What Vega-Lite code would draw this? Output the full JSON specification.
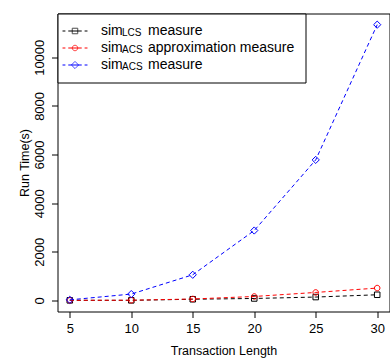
{
  "$schema": "https://vega.github.io/schema/vega-lite/v6.json",
  "width": 332,
  "height": 298,
  "autosize": {"type": "none"},
  "padding": {"left": 57.5, "top": 13.5, "right": 0.5, "bottom": 47.5},
  "background": "white",
  "data": {
    "values": [
      {"length": 5, "series": "LCS", "time": 5},
      {"length": 10, "series": "LCS", "time": 5},
      {"length": 15, "series": "LCS", "time": 50},
      {"length": 20, "series": "LCS", "time": 82},
      {"length": 25, "series": "LCS", "time": 140},
      {"length": 30, "series": "LCS", "time": 234},
      {"length": 5, "series": "ACS approximation", "time": 8},
      {"length": 10, "series": "ACS approximation", "time": 10},
      {"length": 15, "series": "ACS approximation", "time": 60},
      {"length": 20, "series": "ACS approximation", "time": 164},
      {"length": 25, "series": "ACS approximation", "time": 330},
      {"length": 30, "series": "ACS approximation", "time": 510},
      {"length": 5, "series": "ACS", "time": 25},
      {"length": 10, "series": "ACS", "time": 263},
      {"length": 15, "series": "ACS", "time": 1056},
      {"length": 20, "series": "ACS", "time": 2876},
      {"length": 25, "series": "ACS", "time": 5780},
      {"length": 30, "series": "ACS", "time": 11340}
    ]
  },
  "config": {
    "view": {"stroke": "black", "strokeWidth": 1},
    "font": "Liberation Sans",
    "axis": {
      "grid": false,
      "domain": false,
      "tickColor": "black",
      "tickSize": 6,
      "tickWidth": 1,
      "labelColor": "black",
      "labelFont": "Liberation Sans",
      "labelFontSize": 13,
      "titleFont": "Liberation Sans",
      "titleFontSize": 12.5,
      "titleFontWeight": "normal",
      "titleColor": "black",
      "labelOverlap": false,
      "labelFlush": false
    }
  },
  "layer": [
    {
      "mark": {"type": "point", "filled": false, "size": 144, "strokeWidth": 1},
      "encoding": {
        "x": {
          "field": "length",
          "type": "quantitative",
          "scale": {"domain": [4, 31], "nice": false, "zero": false},
          "axis": {
            "values": [5, 10, 15, 20, 25, 30],
            "title": "Transaction Length",
            "labelPadding": 5,
            "titleX": 166,
            "titleY": 42.8,
            "titleBaseline": "alphabetic",
            "titleAlign": "center"
          }
        },
        "y": {
          "field": "time",
          "type": "quantitative",
          "scale": {"domain": [-454, 11800], "nice": false, "zero": false},
          "axis": {
            "values": [0, 2000, 4000, 6000, 8000, 10000],
            "format": "d",
            "title": "Run Time(s)",
            "labelAngle": 270,
            "labelAlign": "center",
            "labelBaseline": "alphabetic",
            "labelPadding": 7.8,
            "titleAngle": 270,
            "titleX": -28.8,
            "titleY": 149,
            "titleBaseline": "alphabetic",
            "titleAlign": "center"
          }
        },
        "color": {
          "field": "series",
          "type": "nominal",
          "scale": {"domain": ["LCS", "ACS approximation", "ACS"], "range": ["black", "red", "blue"]},
          "legend": {
            "orient": "top-left",
            "offset": 0,
            "title": null,
            "padding": 10.5,
            "strokeColor": "black",
            "fillColor": "white",
            "symbolSize": 144,
            "symbolStrokeWidth": 1,
            "symbolOffset": 0,
            "labelOffset": 66,
            "labelFont": "Liberation Sans",
            "labelFontSize": 14,
            "labelColor": "black",
            "labelLimit": 400,
            "rowPadding": 3,
            "labelExpr": "datum.label == 'ACS approximation' ? 'approximation measure' : 'measure'"
          }
        },
        "shape": {
          "field": "series",
          "type": "nominal",
          "scale": {
            "domain": ["LCS", "ACS approximation", "ACS"],
            "range": [
              "M-0.46,-0.46H0.46V0.46H-0.46Z",
              "M0.46,0A0.46,0.46,0,1,1,-0.46,0A0.46,0.46,0,1,1,0.46,0Z",
              "M-0.6,0L0,-0.6L0.6,0L0,0.6Z"
            ]
          },
          "legend": {
            "orient": "top-left",
            "offset": 0,
            "title": null,
            "padding": 10.5,
            "strokeColor": "black",
            "fillColor": "white",
            "symbolSize": 144,
            "symbolStrokeWidth": 1,
            "symbolOffset": 0,
            "labelOffset": 66,
            "labelFont": "Liberation Sans",
            "labelFontSize": 14,
            "labelColor": "black",
            "labelLimit": 400,
            "rowPadding": 3,
            "labelExpr": "datum.label == 'ACS approximation' ? 'approximation measure' : 'measure'"
          }
        },
        "size": {
          "field": "series",
          "type": "nominal",
          "scale": {"type": "point", "domain": ["ACS", "ACS approximation", "LCS"], "range": [144, 144]},
          "legend": {
            "orient": "none",
            "legendX": 29.5,
            "legendY": 10.5,
            "zindex": 2,
            "title": null,
            "padding": 0,
            "symbolType": "square",
            "symbolStrokeWidth": 0,
            "symbolFillColor": "transparent",
            "symbolStrokeColor": "transparent",
            "labelOffset": 0,
            "labelFont": "Liberation Sans",
            "labelFontSize": 14,
            "labelColor": "black",
            "rowPadding": 3,
            "labelExpr": "'sim'",
            "encode": {"symbols": {"update": {"opacity": {"value": 0}}}}
          }
        },
        "opacity": {
          "field": "series",
          "type": "nominal",
          "scale": {"type": "point", "domain": ["LCS", "ACS", "ACS approximation"], "range": [1, 1]},
          "legend": {
            "orient": "none",
            "legendX": 52.5,
            "legendY": 13,
            "zindex": 2,
            "title": null,
            "padding": 0,
            "symbolType": "square",
            "symbolSize": 144,
            "symbolStrokeWidth": 0,
            "symbolFillColor": "transparent",
            "symbolStrokeColor": "transparent",
            "labelOffset": 0,
            "labelFont": "Liberation Sans",
            "labelFontSize": 10,
            "labelColor": "black",
            "rowPadding": 5,
            "labelExpr": "datum.label == 'LCS' ? 'LCS' : 'ACS'",
            "encode": {"symbols": {"update": {"opacity": {"value": 0}}}}
          }
        }
      }
    },
    {
      "mark": {"type": "line", "strokeDash": [4, 3], "strokeWidth": 1},
      "encoding": {
        "x": {"field": "length", "type": "quantitative"},
        "y": {"field": "time", "type": "quantitative"},
        "stroke": {
          "field": "series",
          "type": "nominal",
          "scale": {"domain": ["LCS", "ACS approximation", "ACS"], "range": ["black", "red", "blue"]},
          "legend": {
            "orient": "none",
            "legendX": 10.5,
            "legendY": 10.5,
            "zindex": 2,
            "title": null,
            "padding": 0,
            "symbolType": "M0,-0.5M0,0.5M-2.08,0H-1.6M-1.12,0H1.12M1.6,0H2.08",
            "symbolSize": 144,
            "symbolStrokeWidth": 1,
            "symbolDash": [],
            "labelOffset": 0,
            "labelFont": "Liberation Sans",
            "labelFontSize": 14,
            "rowPadding": 3,
            "labelExpr": "'\u00a0'"
          }
        }
      }
    }
  ]
}
